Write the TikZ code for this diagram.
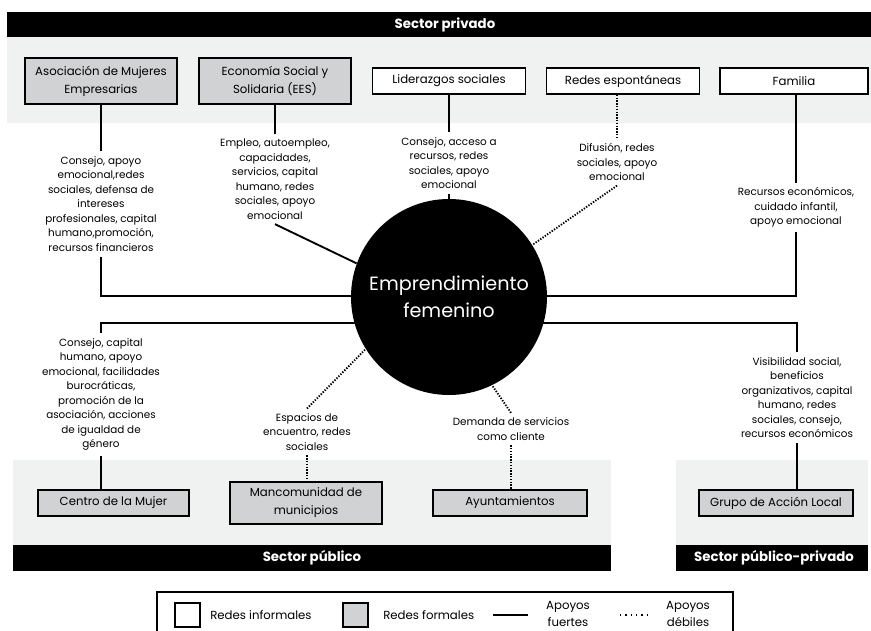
\documentclass[tikz,border=0pt]{standalone}
\usepackage{fontspec}
\setmainfont{Poppins}
\usetikzlibrary{calc}
\definecolor{band}{HTML}{F0F1F1}
\definecolor{formal}{HTML}{D1D2D4}
\pgfdeclarelayer{bg}
\pgfdeclarelayer{lines}
\pgfsetlayers{bg,lines,main}
\begin{document}
\begin{tikzpicture}[x=0.75pt,y=-0.75pt,
  lbl/.style={align=center, inner xsep=2pt, inner ysep=3.5pt, font=\fontsize{7.8}{10.9}\selectfont},
  bx/.style 2 args={minimum width=#1*0.75pt, minimum height=#2*0.75pt},
  formalbox/.style={draw, line width=1.2pt, fill=formal, align=center, inner sep=0pt, font=\fontsize{8.8}{13.5}\selectfont},
  infbox/.style={draw, line width=1.2pt, fill=white, align=center, inner sep=0pt, font=\fontsize{8.8}{13.5}\selectfont},
  strong/.style={line width=1.4pt},
  weak/.style={line width=1.4pt, dash pattern=on 1pt off 1.1pt},
  bartext/.style={text=white, font=\bfseries\fontsize{10}{12}\selectfont, inner sep=0pt},
  legtext/.style={align=center, inner sep=0pt, font=\fontsize{8.8}{12.5}\selectfont}
]
\clip (0,0) rectangle (871,631);

% background bands
\begin{pgfonlayer}{bg}
  \fill[band] (7,37) rectangle (871,123);
  \fill[band] (13,460) rectangle (611,545);
  \fill[band] (676,460) rectangle (868,545);
\end{pgfonlayer}

% sector bars
\fill[black] (7,12) rectangle (871,37);
\node[bartext] (tpriv) at (445,24.5) {Sector privado};
\fill[black] (13,545) rectangle (611,571);
\node[bartext] (tpub) at (312,558) {Sector público};
\fill[black] (676,545) rectangle (868,571);
\node[bartext] (tpp) at (774,558) {Sector público-privado};

% top boxes
\node[formalbox, bx={152}{46}] (asoc) at (101,81) {Asociación de Mujeres\\Empresarias};
\node[formalbox, bx={152}{46}] (ees) at (275,81) {Economía Social y\\Solidaria (EES)};
\node[infbox, bx={153}{26}] (lid) at (449,81) {Liderazgos sociales};
\node[infbox, bx={153}{26}] (resp) at (623,81) {Redes espontáneas};
\node[infbox, bx={148}{26}] (fam) at (794,81) {Familia};

% bottom boxes
\node[formalbox, bx={151}{26}] (centro) at (113.5,503) {Centro de la Mujer};
\node[formalbox, bx={152}{42}] (manc) at (306,503) {Mancomunidad de\\municipios};
\node[formalbox, bx={154}{26}] (ayto) at (510,503) {Ayuntamientos};
\node[formalbox, bx={154}{26}] (gal) at (776,503) {Grupo de Acción Local};

% central circle
\node[circle, fill=black, minimum size=196*0.75pt, inner sep=0pt, text=white, align=center,
      font=\fontsize{14.4}{20.3}\selectfont] (circ) at (449,297) {Emprendimiento\\femenino};
\coordinate (low) at (449,323);
\coordinate (high) at (449,296);

% labels
\node[lbl] (l1) at (101,204) {Consejo, apoyo\\emocional,redes\\sociales, defensa de\\intereses\\profesionales, capital\\humano,promoción,\\recursos financieros};
\node[lbl] (l2) at (275,179) {Empleo, autoempleo,\\capacidades,\\servicios, capital\\humano, redes\\sociales, apoyo\\emocional};
\node[lbl] (l3) at (449,163) {Consejo, acceso a\\recursos, redes\\sociales, apoyo\\emocional};
\node[lbl] (l4) at (617,162) {Difusión, redes\\sociales, apoyo\\emocional};
\node[lbl] (l5) at (796,207.5) {Recursos económicos,\\cuidado infantil,\\apoyo emocional};
\node[lbl] (l6) at (101,394.5) {Consejo, capital\\humano, apoyo\\emocional, facilidades\\burocráticas,\\promoción de la\\asociación, acciones\\de igualdad de\\género};
\node[lbl] (l7) at (307,432) {Espacios de\\encuentro, redes\\sociales};
\node[lbl] (l8) at (511,429) {Demanda de servicios\\como cliente};
\node[lbl] (l9) at (797,397.5) {Visibilidad social,\\beneficios\\organizativos, capital\\humano, redes\\sociales, consejo,\\recursos económicos};

% connectors
\begin{pgfonlayer}{lines}
  \draw[strong] (asoc.south) -- (l1.north);
  \draw[strong] (l1.south) |- (high);
  \draw[strong] (ees.south) -- (l2.north);
  \draw[strong] (l2.south) -- (circ.160);
  \draw[strong] (lid.south) -- (l3.north);
  \draw[strong] (l3.south) -- (circ.north);
  \draw[weak] (resp.south -| l4.north) -- (l4.north);
  \draw[weak] (l4.south) -- (circ.32);
  \draw[strong] (fam.south -| l5.north) -- (l5.north);
  \draw[strong] (l5.south) |- (high);
  \draw[strong] (l6.north) |- (low);
  \draw[strong] (l6.south) -- (centro.north -| l6.south);
  \draw[weak] (l7.north) -- (circ.212);
  \draw[weak] (l7.south) -- (manc.north -| l7.south);
  \draw[weak] (l8.north) -- (circ.296);
  \draw[weak] (l8.south) -- (ayto.north -| l8.south);
  \draw[strong] (l9.north) |- (low);
  \draw[strong] (l9.south) -- (gal.north -| l9.south);
\end{pgfonlayer}

% legend
\draw[line width=1.2pt] (157,592) rectangle (733,645);
\node[draw, line width=1.2pt, fill=white, bx={25}{24}, inner sep=0pt] (kinf) at (187.5,615) {};
\node[legtext, anchor=west] (tinf) at (210,615) {Redes informales};
\node[draw, line width=1.2pt, fill=formal, bx={25}{24}, inner sep=0pt] (kfor) at (355.5,615) {};
\node[legtext, anchor=west] (tfor) at (383,615) {Redes formales};
\coordinate (s1) at (493,615);
\coordinate (s2) at (528,615);
\draw[strong] (s1) -- (s2);
\node[legtext] (tfue) at (568,614) {Apoyos\\fuertes};
\coordinate (d1) at (620,615);
\coordinate (d2) at (650,615);
\draw[line width=1.3pt, dash pattern=on 1pt off 3pt] (d1) -- (d2);
\node[legtext] (tdeb) at (688,614) {Apoyos\\débiles};
\end{tikzpicture}
\end{document}
